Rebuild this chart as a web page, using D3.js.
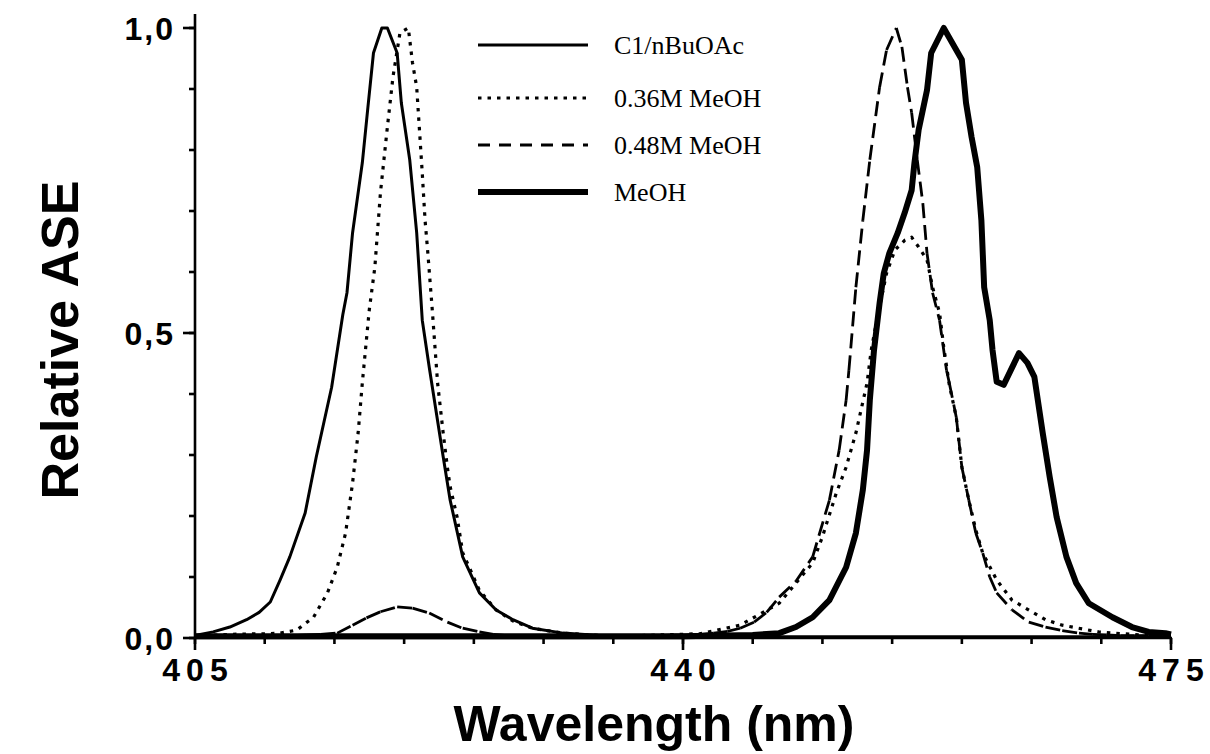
<!DOCTYPE html>
<html>
<head>
<meta charset="utf-8">
<script src="https://cdn.jsdelivr.net/npm/d3@7"></script>
<style>
  html, body { margin: 0; padding: 0; background: #fff; }
  svg { display: block; }
</style>
</head>
<body>
<svg id="chart" width="1210" height="754"></svg>
<script>
// ASE spectra, [wavelength (nm), relative intensity]
const c1nBuOAc = [
  [405.0,0.004],[406.3,0.010],[407.5,0.018],[408.7,0.030],[409.6,0.042],[410.4,0.059],
  [411.1,0.095],[411.8,0.133],[412.9,0.205],[413.7,0.297],[414.8,0.411],[415.6,0.530],
  [415.9,0.566],[416.3,0.664],[417.0,0.779],[417.4,0.870],[417.8,0.959],[418.4,1.0],
  [418.8,1.0],[419.5,0.959],[419.8,0.877],[420.4,0.784],[420.9,0.664],[421.3,0.521],
  [421.8,0.444],[422.8,0.297],[423.3,0.226],[424.2,0.133],[425.4,0.074],[426.6,0.046],
  [427.8,0.030],[429.2,0.016],[431.4,0.008],[434.0,0.004],[440.0,0.002],[450.0,0.002],
  [460.0,0.002],[475.0,0.002]
];

const meoh036 = [
  [405.0,0.003],[407.5,0.006],[410.0,0.007],[411.1,0.008],[412.3,0.013],[413.5,0.034],
  [414.5,0.074],[415.2,0.116],[415.8,0.172],[416.3,0.254],[416.7,0.336],[417.0,0.418],
  [417.5,0.538],[417.9,0.608],[418.3,0.730],[418.8,0.838],[419.2,0.920],[419.7,0.992],
  [420.3,1.0],[420.6,0.943],[420.9,0.903],[421.3,0.762],[421.5,0.685],[421.7,0.631],
  [422.0,0.543],[422.4,0.418],[422.8,0.336],[423.1,0.280],[423.3,0.248],[423.8,0.198],
  [424.2,0.140],[425.4,0.078],[426.6,0.046],[427.8,0.028],[429.2,0.016],[431.4,0.008],
  [434.0,0.004],[437.0,0.004],[441.2,0.007],[444.1,0.021],[446.9,0.057],[448.1,0.090],
  [449.3,0.123],[450.0,0.166],[451.0,0.238],[451.7,0.280],[452.4,0.336],[453.2,0.418],
  [453.5,0.472],[453.9,0.521],[454.6,0.598],[455.2,0.636],[455.9,0.652],[456.4,0.657],
  [456.9,0.641],[457.5,0.620],[457.9,0.575],[458.4,0.533],[458.7,0.477],[459.1,0.415],
  [459.6,0.362],[460.0,0.280],[460.5,0.226],[461.0,0.177],[461.5,0.139],[462.5,0.095],
  [463.6,0.062],[466.0,0.030],[467.2,0.021],[469.8,0.010],[472.7,0.005],[475.0,0.003]
];

const meoh048 = [
  [405,0.004],[406,0.004],[407,0.004],[408,0.004],[409,0.004],[410,0.004],[411,0.004],
  [412,0.004],[413,0.005],[414,0.006],[415.2,0.008],[416.3,0.021],[417.3,0.033],
  [418.3,0.043],[419.5,0.051],[420.6,0.049],[421.8,0.041],[423.1,0.026],[424.2,0.016],
  [425.4,0.010],[426.4,0.006],[427.4,0.004],[428.4,0.004],[429.4,0.004],[430.4,0.004],
  [431.4,0.004],[432.4,0.004],[433.4,0.004],[434.4,0.004],[435.4,0.004],[436.4,0.004],
  [437.4,0.004],[438.4,0.004],[439.4,0.005],[440.3,0.005],[441.2,0.006],[442.2,0.008],
  [443.2,0.011],[444.1,0.016],[445.1,0.026],[446.0,0.042],[446.9,0.067],[448.1,0.093],
  [449.3,0.133],[450.5,0.226],[451.2,0.308],[451.7,0.390],[451.9,0.439],[452.4,0.575],
  [452.9,0.685],[453.4,0.784],[454.1,0.903],[454.6,0.964],[455.3,1.0],[455.7,0.969],
  [456.1,0.903],[456.4,0.861],[456.8,0.784],[457.2,0.713],[457.5,0.631],[457.9,0.566],
  [458.4,0.521],[458.9,0.439],[459.1,0.418],[459.6,0.362],[460.0,0.280],[460.5,0.226],
  [461.0,0.172],[461.5,0.139],[462.0,0.100],[462.5,0.074],[463.6,0.046],[464.8,0.026],
  [466.0,0.018],[467.2,0.012],[468.4,0.008],[469.4,0.006],[470.4,0.005],[471.4,0.004],
  [472.4,0.004],[473.4,0.004],[474.4,0.004],[475.0,0.004]
];

const meohNeat = [
  [405,0.003],[410,0.003],[415,0.003],[420,0.003],[425,0.003],[430,0.003],[435,0.003],
  [440,0.003],[443,0.004],[445,0.005],[446.9,0.008],[448.1,0.018],[449.3,0.034],
  [450.5,0.062],[451.7,0.116],[452.4,0.172],[452.9,0.243],[453.2,0.308],[453.4,0.390],
  [453.7,0.472],[454.1,0.549],[454.4,0.598],[454.8,0.631],[455.4,0.664],[455.9,0.697],
  [456.4,0.734],[456.6,0.779],[456.9,0.833],[457.5,0.898],[457.8,0.959],[458.7,1.0],
  [460.0,0.948],[460.3,0.877],[460.7,0.821],[461.1,0.772],[461.4,0.685],[461.6,0.575],
  [462.0,0.521],[462.2,0.472],[462.5,0.420],[463.0,0.415],[464.1,0.467],[464.7,0.451],
  [465.2,0.428],[465.8,0.336],[466.3,0.264],[466.8,0.198],[467.5,0.133],[468.2,0.090],
  [469.1,0.057],[470.8,0.034],[472.2,0.018],[473.4,0.010],[474.6,0.008],[475.0,0.006]
];

const legendLabels = ["C1/nBuOAc", "0.36M MeOH", "0.48M MeOH", "MeOH"];
const xMajorTicks = [405, 440, 475];
const xMinorTicks = d3.range(405, 475.1, 5);
const yMajorTicks = [0, 0.5, 1.0];
const yMinorTicks = d3.range(0, 1.01, 0.1);
const yTickText = ["0,0", "0,5", "1,0"];
const xTitle = "Wavelength (nm)";
const yTitle = "Relative ASE";

const svg = d3.select("#chart");
const x = d3.scaleLinear().domain([405, 475]).range([195, 1171]);
const y = d3.scaleLinear().domain([0, 1]).range([638, 28]);

const line = d3.line().x(d => x(d[0])).y(d => y(d[1]));

// line styles per series
const styles = [
  { width: 3.0, dash: null },
  { width: 3.2, dash: "3.5,6" },
  { width: 2.8, dash: "15,7", perSegment: true },
  { width: 6.0, dash: null }
];
const series = [c1nBuOAc, meoh036, meoh048, meohNeat];

const plot = svg.append("g");
series.forEach((pts, i) => {
  const st = styles[i];
  if (st.perSegment) {
    // dash pattern restarts at each data segment
    const segs = d3.pairs(pts);
    plot.append("g").selectAll("path").data(segs).join("path")
      .attr("d", s => line(s))
      .attr("fill", "none").attr("stroke", "#000")
      .attr("stroke-width", st.width)
      .attr("stroke-dasharray", st.dash);
  } else {
    plot.append("path").datum(pts)
      .attr("d", line)
      .attr("fill", "none").attr("stroke", "#000")
      .attr("stroke-width", st.width)
      .attr("stroke-linejoin", "round")
      .attr("stroke-dasharray", st.dash);
  }
});

// axes
const axes = svg.append("g").attr("stroke", "#000").attr("stroke-width", 2.6);
axes.append("line").attr("x1", x(405)).attr("x2", x(405)).attr("y1", y(0)).attr("y2", y(1) - 14);
axes.append("line").attr("x1", x(405) - 1).attr("x2", x(475) + 1).attr("y1", y(0)).attr("y2", y(0));

axes.selectAll(".ymin").data(yMinorTicks).join("line")
  .attr("x1", x(405) - 6).attr("x2", x(405)).attr("y1", d => y(d)).attr("y2", d => y(d));
axes.selectAll(".ymaj").data(yMajorTicks).join("line")
  .attr("x1", x(405) - 12).attr("x2", x(405)).attr("y1", d => y(d)).attr("y2", d => y(d));
axes.selectAll(".xmin").data(xMinorTicks).join("line")
  .attr("x1", d => x(d)).attr("x2", d => x(d)).attr("y1", y(0)).attr("y2", y(0) + 6);
axes.selectAll(".xmaj").data(xMajorTicks).join("line")
  .attr("x1", d => x(d)).attr("x2", d => x(d)).attr("y1", y(0)).attr("y2", y(0) + 12);

const sans = "'Liberation Sans', Arial, Helvetica, sans-serif";
svg.selectAll(".ylab").data(yMajorTicks).join("text")
  .attr("x", 175).attr("y", d => y(d))
  .attr("dy", "0.36em")
  .attr("text-anchor", "end")
  .attr("font-family", sans).attr("font-weight", "bold")
  .attr("font-size", 32).attr("letter-spacing", 2)
  .text((d, i) => yTickText[i]);

svg.selectAll(".xlab").data(xMajorTicks).join("text")
  .attr("x", d => x(d) + 3).attr("y", 681)
  .attr("text-anchor", "middle")
  .attr("font-family", sans).attr("font-weight", "bold")
  .attr("font-size", 32).attr("letter-spacing", 6)
  .text(d => d);

svg.append("text")
  .attr("x", 654).attr("y", 741)
  .attr("text-anchor", "middle")
  .attr("font-family", sans).attr("font-weight", "bold")
  .attr("font-size", 50)
  .text(xTitle);

svg.append("text")
  .attr("transform", "translate(78,340) rotate(-90)")
  .attr("text-anchor", "middle")
  .attr("font-family", sans).attr("font-weight", "bold")
  .attr("font-size", 52)
  .text(yTitle);

// legend
const legendY = [45, 98, 145, 192];
const lg = svg.append("g");
legendLabels.forEach((lab, i) => {
  lg.append("line")
    .attr("x1", 478).attr("x2", 588)
    .attr("y1", legendY[i]).attr("y2", legendY[i])
    .attr("stroke", "#000").attr("stroke-width", styles[i].width)
    .attr("stroke-dasharray", i === 2 ? "12,9" : styles[i].dash);
  lg.append("text")
    .attr("x", 614).attr("y", legendY[i]).attr("dy", "0.35em")
    .attr("font-family", "'Liberation Serif', 'Times New Roman', serif")
    .attr("font-size", 26)
    .text(lab);
});
</script>
</body>
</html>
